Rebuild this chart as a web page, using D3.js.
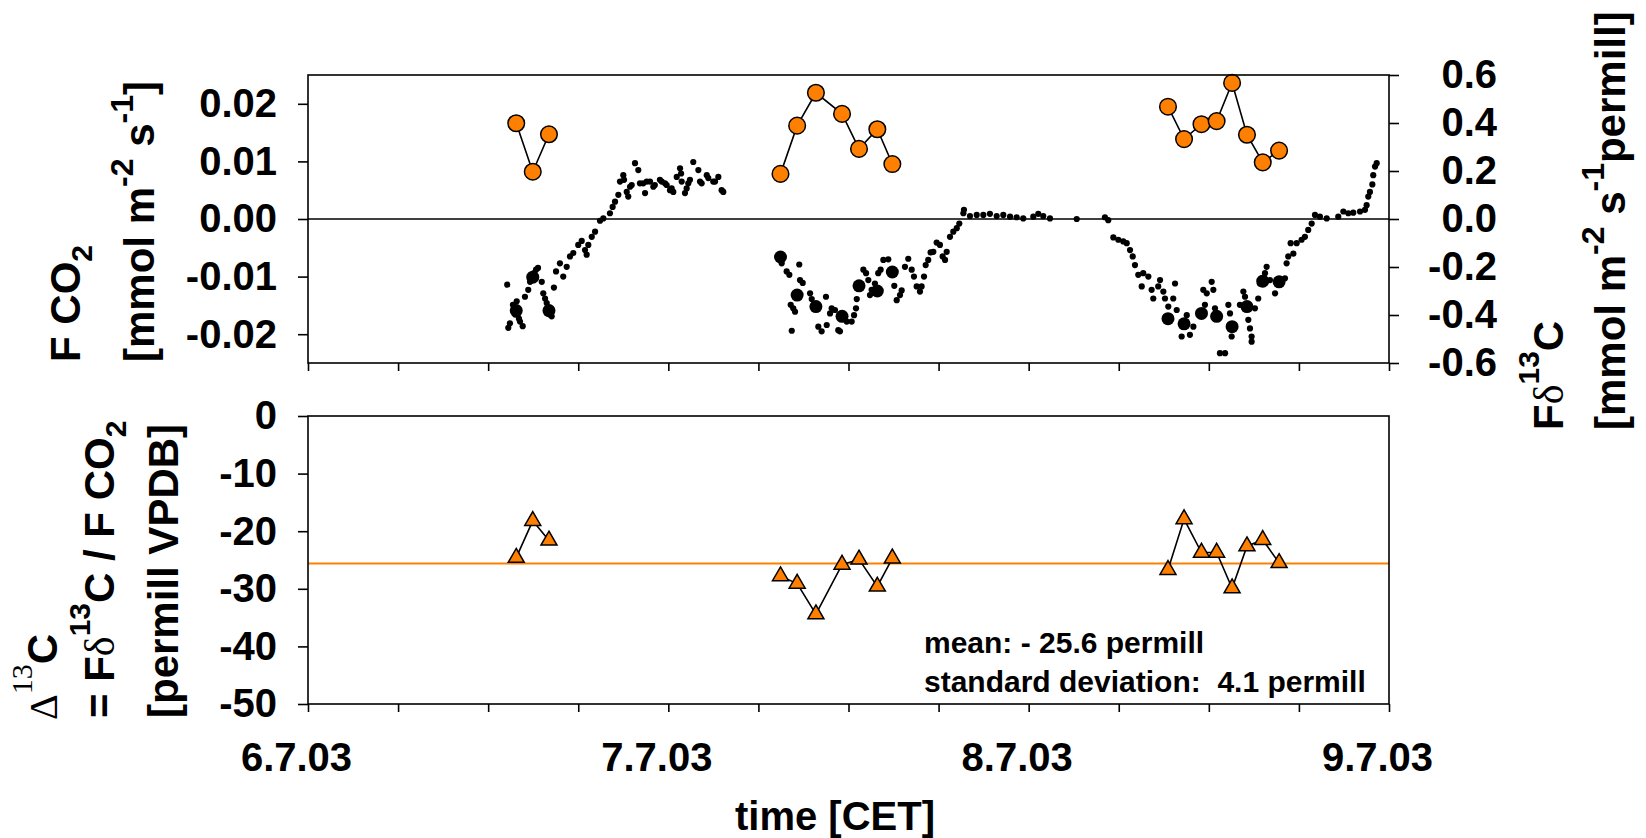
<!DOCTYPE html>
<html>
<head>
<meta charset="utf-8">
<script src="https://cdn.jsdelivr.net/npm/d3@7"></script>
<style>
  body { margin: 0; background: #fff; }
  text { font-family: "Liberation Sans", Arial, sans-serif; font-weight: bold; fill: #000; }
  .greek { font-family: "Liberation Serif", "Times New Roman", serif; font-weight: normal; }
</style>
</head>
<body>
<svg id="chart" width="1646" height="838"></svg>
<script>
// time axis: hours since 6.7.03 00:00 (CET)
var timeTicks = [0, 24, 48, 72];
var timeLabels = ["6.7.03", "7.7.03", "8.7.03", "9.7.03"];
var fluxTicks = [-0.02, -0.01, 0, 0.01, 0.02];
var isoFluxTicks = [-0.6, -0.4, -0.2, 0, 0.2, 0.4, 0.6];
var deltaTicks = [-50, -40, -30, -20, -10, 0];

// continuous CO2 flux (small dots), mmol m-2 s-1
var fluxHours = [
    13.27, 13.34, 13.45, 13.65, 13.75, 13.80, 13.85, 13.90, 13.99, 14.05, 14.12, 14.30, 14.45, 14.67, 14.79,
    14.99, 15.05, 15.10, 15.19, 15.32, 15.57, 15.67, 15.79, 15.90, 15.99, 16.05, 16.10, 16.12, 16.23, 16.38,
    16.52, 16.78, 17.00, 17.23, 17.45, 17.67, 18.00, 18.23, 18.45, 18.56, 18.67, 18.90, 19.12, 19.45, 19.67,
    20.11, 20.29, 20.45, 20.67, 20.78, 21.00, 21.05, 21.23, 21.33, 21.45, 21.56, 21.78, 22.00, 22.11, 22.33,
    22.45, 22.56, 22.78, 23.00, 23.10, 23.44, 23.56, 23.78, 23.89, 24.11, 24.22, 24.33, 24.56, 24.78, 24.85,
    24.89, 25.11, 25.22, 25.33, 25.44, 25.66, 26.00, 26.11, 26.22, 26.56, 26.66, 26.99, 27.11, 27.33, 27.55,
    27.66,
    31.55, 31.88, 32.06, 32.72, 32.77, 32.95, 32.15, 32.32, 32.44, 32.22, 33.44, 33.55, 34.50, 33.99, 34.21,
    34.55, 34.77, 34.88, 35.10, 35.32, 35.43, 35.88, 36.21, 36.37, 36.50, 36.55, 36.99, 37.17, 37.32, 37.43,
    37.54, 37.76, 37.98, 38.14, 38.32, 38.65, 39.05, 39.21, 39.43, 39.54, 39.76, 39.98, 40.21, 40.36, 40.54,
    40.76, 40.87, 41.03, 41.14, 41.31, 41.47, 41.65, 41.87, 42.09, 42.27, 42.43, 42.54, 42.76, 42.98, 43.21,
    43.38, 43.65, 43.69, 44.09, 44.54, 44.98, 45.42, 45.87, 46.31, 46.76, 47.20, 47.64, 48.31, 48.64, 48.97,
    49.42, 51.20, 53.08, 53.30,
    53.64, 53.97, 54.30, 54.53, 54.75, 54.93, 55.08, 55.30, 55.63, 55.97, 55.53, 56.19, 56.30, 56.75, 56.63,
    56.97, 57.08, 57.30, 57.63, 57.75, 57.86, 58.53, 58.97, 58.74, 58.19, 59.63, 59.86, 60.19, 60.30, 59.74,
    60.41, 60.74, 61.08, 61.30, 61.41, 61.52, 62.07, 62.30, 62.41, 62.63, 62.74, 62.85, 62.85, 63.07, 63.29,
    63.40, 63.52, 63.74, 63.85, 64.07, 64.41, 64.52, 64.74, 65.07, 65.18, 65.29, 65.45, 65.63, 65.85, 66.18,
    66.40, 66.62, 66.85, 67.07, 67.40, 67.85, 68.62, 68.96, 69.29, 69.62, 70.07, 70.40, 70.51, 70.62, 70.73,
    70.89, 70.95, 71.07, 71.18
];
var fluxCO2 = [
    -0.0114, -0.0189, -0.0181, -0.0149, -0.0155, -0.0166, -0.0158, -0.0143, -0.0163, -0.0173, -0.0178, -0.0186, -0.0135, -0.0123, -0.0109,
    -0.0099, -0.0094, -0.0102, -0.0088, -0.0085, -0.0109, -0.0129, -0.0138, -0.0146, -0.0154, -0.0158, -0.0166, -0.0161, -0.0169, -0.0119,
    -0.0091, -0.0077, -0.0100, -0.0083, -0.0065, -0.0059, -0.0045, -0.0038, -0.0054, -0.0062, -0.0045, -0.0031, -0.0022, -0.0003, 0.0001,
    0.0010, 0.0021, 0.0030, 0.0042, 0.0065, 0.0076, 0.0068, 0.0047, 0.0039, 0.0056, 0.0059, 0.0097, 0.0085, 0.0062, 0.0062,
    0.0045, 0.0065, 0.0065, 0.0056, 0.0059, 0.0068, 0.0065, 0.0062, 0.0059, 0.0050, 0.0053, 0.0047, 0.0073, 0.0088, 0.0079,
    0.0065, 0.0045, 0.0053, 0.0062, 0.0068, 0.0099, 0.0085, 0.0065, 0.0062, 0.0076, 0.0071, 0.0065, 0.0065, 0.0073, 0.0050,
    0.0047,
    -0.0077, -0.0091, -0.0097, -0.0079, -0.0106, -0.0111, -0.0149, -0.0155, -0.0161, -0.0194, -0.0129, -0.0139, -0.0135, -0.0187, -0.0195,
    -0.0184, -0.0164, -0.0155, -0.0158, -0.0193, -0.0195, -0.0178, -0.0178, -0.0167, -0.0155, -0.0139, -0.0088, -0.0094, -0.0106, -0.0132,
    -0.0123, -0.0112, -0.0094, -0.0088, -0.0071, -0.0070, -0.0116, -0.0141, -0.0132, -0.0124, -0.0083, -0.0069, -0.0088, -0.0100, -0.0117,
    -0.0126, -0.0117, -0.0100, -0.0080, -0.0071, -0.0058, -0.0057, -0.0041, -0.0045, -0.0065, -0.0071, -0.0057, -0.0031, -0.0022, -0.0016,
    -0.0008, 0.0010, 0.0016, 0.0005, 0.0007, 0.0007, 0.0009, 0.0005, 0.0007, 0.0004, 0.0003, 0.0001, 0.0004, 0.0009, 0.0005,
    0.0001, 0.0000, 0.0003, -0.0002,
    -0.0032, -0.0036, -0.0039, -0.0042, -0.0054, -0.0065, -0.0080, -0.0097, -0.0094, -0.0100, -0.0117, -0.0123, -0.0138, -0.0106, -0.0117,
    -0.0126, -0.0138, -0.0152, -0.0138, -0.0112, -0.0158, -0.0167, -0.0187, -0.0201, -0.0204, -0.0123, -0.0129, -0.0109, -0.0123, -0.0149,
    -0.0155, -0.0233, -0.0233, -0.0149, -0.0164, -0.0204, -0.0149, -0.0126, -0.0135, -0.0175, -0.0190, -0.0204, -0.0213, -0.0155, -0.0138,
    -0.0112, -0.0103, -0.0094, -0.0083, -0.0106, -0.0129, -0.0109, -0.0106, -0.0103, -0.0077, -0.0065, -0.0042, -0.0060, -0.0042, -0.0036,
    -0.0031, -0.0019, -0.0008, 0.0007, 0.0004, 0.0001, 0.0004, 0.0013, 0.0010, 0.0011, 0.0013, 0.0016, 0.0024, 0.0039, 0.0047,
    0.0060, 0.0076, 0.0091, 0.0097
];

// isotope sampling (three nights)
var sampleHours = [13.87, 14.97, 16.05, 31.47, 32.58, 33.83, 35.57, 36.70, 37.92, 38.92,
    57.28, 58.35, 59.51, 60.52, 61.55, 62.54, 63.59, 64.68];
var sampleNight = [1, 1, 1, 2, 2, 2, 2, 2, 2, 2, 3, 3, 3, 3, 3, 3, 3, 3];
var fco2Sample = [-0.0159, -0.0101, -0.0159, -0.0066, -0.0132, -0.0152, -0.0169, -0.0116, -0.0125, -0.0092,
    -0.0173, -0.0182, -0.0164, -0.0169, -0.0187, -0.0152, -0.0108, -0.0109];
var fd13C = [0.399, 0.197, 0.353, 0.188, 0.389, 0.526, 0.438, 0.292, 0.374, 0.229,
    0.468, 0.333, 0.395, 0.408, 0.567, 0.351, 0.236, 0.285];
var delta13C = [-24.6, -18.2, -21.6, -27.8, -29.1, -34.4, -25.8, -24.9, -29.6, -24.7,
    -26.7, -17.9, -23.7, -23.7, -29.9, -22.6, -21.5, -25.5];
var meanDelta = -25.6;
var sdDelta = 4.1;

var ORANGE = "#ff8000";
var LINE_W = 1.6;

var svg = d3.select("#chart");

var x = d3.scaleLinear().domain([0, 72]).range([308, 1389]);
var yFlux = d3.scaleLinear().domain([-0.025, 0.025]).range([363, 75]);
var yIso = d3.scaleLinear().domain([-0.6, 0.6]).range([363, 75]);
var yDelta = d3.scaleLinear().domain([-50, 0]).range([704, 416]);

var samples = sampleHours.map(function(h, i) {
    return {h: h, night: sampleNight[i], fco2: fco2Sample[i], iso: fd13C[i], delta: delta13C[i]};
});
var nights = d3.groups(samples, function(d) { return d.night; });

/** style an axis group the way the figure does */
function styleAxis(g, fontSize) {
    g.select(".domain").remove();
    g.selectAll(".tick line").attr("stroke", "#000").attr("stroke-width", LINE_W);
    g.selectAll(".tick text")
        .attr("font-family", null)
        .style("font-size", fontSize + "px");
}

// ---------- top panel ----------
svg.append("line")
    .attr("x1", x(0)).attr("x2", x(72))
    .attr("y1", yFlux(0)).attr("y2", yFlux(0))
    .attr("stroke", "#000").attr("stroke-width", 1.5);

svg.append("g").selectAll("circle")
    .data(fluxHours)
    .enter().append("circle")
    .attr("cx", function(d) { return x(d); })
    .attr("cy", function(d, i) { return yFlux(fluxCO2[i]); })
    .attr("r", 3.1)
    .attr("fill", "#000");

svg.append("g").selectAll("circle")
    .data(samples)
    .enter().append("circle")
    .attr("cx", function(d) { return x(d.h); })
    .attr("cy", function(d) { return yFlux(d.fco2); })
    .attr("r", 6.5)
    .attr("fill", "#000");

var isoLine = d3.line()
    .x(function(d) { return x(d.h); })
    .y(function(d) { return yIso(d.iso); });
svg.append("g").selectAll("path")
    .data(nights)
    .enter().append("path")
    .attr("d", function(d) { return isoLine(d[1]); })
    .attr("fill", "none").attr("stroke", "#000").attr("stroke-width", LINE_W);

svg.append("g").selectAll("circle")
    .data(samples)
    .enter().append("circle")
    .attr("cx", function(d) { return x(d.h); })
    .attr("cy", function(d) { return yIso(d.iso); })
    .attr("r", 8.3)
    .attr("fill", ORANGE).attr("stroke", "#000").attr("stroke-width", 1.5);

svg.append("rect")
    .attr("x", x(0)).attr("y", yFlux.range()[1])
    .attr("width", x(72) - x(0)).attr("height", yFlux.range()[0] - yFlux.range()[1])
    .attr("fill", "none").attr("stroke", "#000").attr("stroke-width", LINE_W);

var gFluxAxis = svg.append("g")
    .attr("transform", "translate(" + x(0) + ",0)")
    .call(d3.axisLeft(yFlux).tickValues(fluxTicks).tickSize(10).tickPadding(21)
        .tickFormat(function(d) { return d.toFixed(2); }));
styleAxis(gFluxAxis, 40);

var gIsoAxis = svg.append("g")
    .attr("transform", "translate(" + x(72) + ",0)")
    .call(d3.axisRight(yIso).tickValues(isoFluxTicks).tickSize(10).tickPadding(98)
        .tickFormat(function(d) { return d.toFixed(1); }));
styleAxis(gIsoAxis, 40);
gIsoAxis.selectAll(".tick text").attr("text-anchor", "end");

var gTopX = svg.append("g")
    .attr("transform", "translate(0," + yFlux.range()[0] + ")")
    .call(d3.axisBottom(x).tickValues(d3.range(0, 73, 6)).tickSize(8).tickFormat(""));
styleAxis(gTopX, 40);

// ---------- bottom panel ----------
svg.append("line")
    .attr("x1", x(0)).attr("x2", x(72))
    .attr("y1", yDelta(meanDelta)).attr("y2", yDelta(meanDelta))
    .attr("stroke", ORANGE).attr("stroke-width", 2);

var deltaLine = d3.line()
    .x(function(d) { return x(d.h); })
    .y(function(d) { return yDelta(d.delta); });
svg.append("g").selectAll("path")
    .data(nights)
    .enter().append("path")
    .attr("d", function(d) { return deltaLine(d[1]); })
    .attr("fill", "none").attr("stroke", "#000").attr("stroke-width", LINE_W);

var triangle = d3.symbol().type(d3.symbolTriangle).size(111);
svg.append("g").selectAll("path")
    .data(samples)
    .enter().append("path")
    .attr("d", triangle)
    .attr("transform", function(d) { return "translate(" + x(d.h) + "," + yDelta(d.delta) + ")"; })
    .attr("fill", ORANGE).attr("stroke", "#000").attr("stroke-width", 1.5);

svg.append("rect")
    .attr("x", x(0)).attr("y", yDelta.range()[1])
    .attr("width", x(72) - x(0)).attr("height", yDelta.range()[0] - yDelta.range()[1])
    .attr("fill", "none").attr("stroke", "#000").attr("stroke-width", LINE_W);

var gDeltaAxis = svg.append("g")
    .attr("transform", "translate(" + x(0) + ",0)")
    .call(d3.axisLeft(yDelta).tickValues(deltaTicks).tickSize(10).tickPadding(21)
        .tickFormat(function(d) { return d3.format("d")(d).replace("\u2212", "-"); }));
styleAxis(gDeltaAxis, 40);

var gBotX = svg.append("g")
    .attr("transform", "translate(0," + yDelta.range()[0] + ")")
    .call(d3.axisBottom(x).tickValues(d3.range(0, 73, 6)).tickSize(8).tickPadding(31)
        .tickFormat(function(d) {
            var k = timeTicks.indexOf(d);
            return k < 0 ? "" : timeLabels[k];
        }));
styleAxis(gBotX, 40);
gBotX.selectAll(".tick text").attr("dx", -12);

svg.append("text")
    .attr("x", 924).attr("y", 653)
    .style("font-size", "30px")
    .text("mean: - " + Math.abs(meanDelta).toFixed(1) + " permill");
svg.append("text")
    .attr("x", 924).attr("y", 692)
    .style("font-size", "30px")
    .style("white-space", "pre")
    .text("standard deviation:  " + sdDelta.toFixed(1) + " permill");

svg.append("text")
    .attr("x", 835).attr("y", 830)
    .attr("text-anchor", "middle")
    .style("font-size", "40px")
    .text("time [CET]");

// ---------- rotated axis titles ----------
/** parts: [text, fontSize, dy, serif] */
function rotatedTitle(px, py, parts) {
    var t = svg.append("text")
        .attr("transform", "translate(" + px + "," + py + ") rotate(-90)")
        .style("white-space", "pre");
    parts.forEach(function(p) {
        var s = t.append("tspan")
            .style("font-size", p[1] + "px")
            .attr("dy", p[2])
            .text(p[0]);
        if (p[3]) s.attr("class", "greek");
    });
}

rotatedTitle(80, 362, [["F CO", 42, 0], ["2", 30, 12], ["", 42, -12]]);
rotatedTitle(154, 362, [["[mmol m", 42, 0], ["-2", 32, -21], [" s", 42, 21], ["-1", 32, -21], ["]", 42, 21]]);

rotatedTitle(1563, 430, [["F", 42, 0], ["\u03b4", 42, 0, true], ["13", 30, -24], ["C", 42, 24]]);
rotatedTitle(1625, 430, [["[mmol m", 42, 0], ["-2", 32, -21], [" s", 42, 21], ["-1", 32, -21], ["permill]", 42, 21]]);

rotatedTitle(57, 720, [["\u0394", 40, 0, true], ["13", 30, -25, true], ["C", 42, 25]]);
rotatedTitle(114, 718, [["= F", 42, 0], ["\u03b4", 42, 0, true], ["13", 30, -24], ["C / F CO", 42, 24], ["2", 30, 12]]);
rotatedTitle(178, 718, [["[permill VPDB]", 42, 0]]);
</script>
</body>
</html>
